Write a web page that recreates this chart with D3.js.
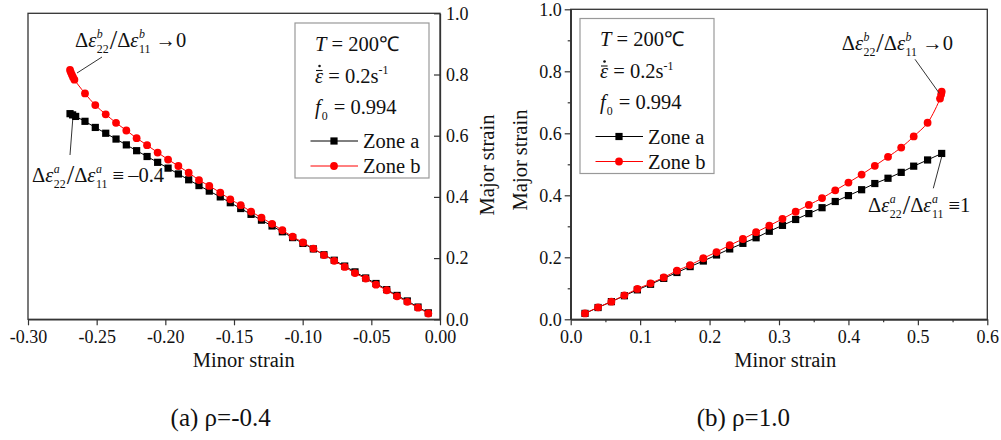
<!DOCTYPE html>
<html>
<head>
<meta charset="utf-8">
<script src="https://cdn.jsdelivr.net/npm/d3@7"></script>
</head>
<body style="margin:0; background:#fff">
<svg id="chart" width="1001" height="440"></svg>
<script>
//////////////////////////////////////////////////////
////////////////////// Data //////////////////////////
//////////////////////////////////////////////////////

// (a) rho = -0.4, zone a (black squares)
var aMinorL = [-0.0085, -0.016, -0.0238, -0.0313, -0.0388, -0.0466, -0.0541, -0.0619, -0.0694, -0.077,
	-0.0845, -0.0922, -0.0998, -0.1073, -0.1148, -0.1223, -0.130, -0.1376, -0.1451, -0.1527,
	-0.160, -0.168, -0.1755, -0.183, -0.1905, -0.198, -0.2056, -0.2133, -0.2209, -0.2284,
	-0.2359, -0.2434, -0.251, -0.2585, -0.2653, -0.2675, -0.2694];
var aMajorL = [0.021, 0.040, 0.060, 0.078, 0.097, 0.117, 0.135, 0.155, 0.174, 0.193,
	0.211, 0.230, 0.248, 0.267, 0.286, 0.305, 0.324, 0.343, 0.362, 0.381,
	0.400, 0.419, 0.437, 0.456, 0.475, 0.494, 0.513, 0.532, 0.551, 0.570,
	0.589, 0.608, 0.627, 0.647, 0.663, 0.668, 0.672];

// (a) rho = -0.4, zone b (red circles)
var bMinorL = [-0.0085, -0.016, -0.0238, -0.0313, -0.0388, -0.0466, -0.0541, -0.0619, -0.0694, -0.077,
	-0.0845, -0.0922, -0.0998, -0.1073, -0.1148, -0.1223, -0.130, -0.1376, -0.1451, -0.1527,
	-0.160, -0.168, -0.1755, -0.183, -0.1905, -0.198, -0.2056, -0.2133, -0.2209, -0.2284,
	-0.2359, -0.2434, -0.251, -0.2585, -0.2662, -0.2672, -0.2680, -0.2688, -0.2694];
var bMajorL = [0.019, 0.038, 0.057, 0.075, 0.095, 0.113, 0.133, 0.151, 0.171, 0.191,
	0.210, 0.231, 0.251, 0.270, 0.291, 0.312, 0.332, 0.352, 0.373, 0.392,
	0.414, 0.436, 0.455, 0.479, 0.501, 0.522, 0.545, 0.569, 0.592, 0.617,
	0.642, 0.670, 0.700, 0.738, 0.783, 0.791, 0.799, 0.807, 0.815];

// (b) rho = 1.0, zone a
var aMinorR = [0.0206, 0.0394, 0.0586, 0.0773, 0.096, 0.115, 0.134, 0.153, 0.172, 0.191,
	0.210, 0.229, 0.248, 0.267, 0.286, 0.305, 0.324, 0.343, 0.362, 0.381,
	0.400, 0.419, 0.438, 0.457, 0.476, 0.494, 0.514, 0.5343];
var aMajorR = [0.019, 0.038, 0.057, 0.076, 0.095, 0.113, 0.132, 0.151, 0.170, 0.188,
	0.2075, 0.227, 0.245, 0.263, 0.284, 0.303, 0.322, 0.341, 0.360, 0.380,
	0.399, 0.418, 0.438, 0.455, 0.474, 0.494, 0.514, 0.535];

// (b) rho = 1.0, zone b
var bMinorR = [0.0206, 0.0394, 0.0586, 0.0773, 0.096, 0.115, 0.134, 0.153, 0.172, 0.191,
	0.210, 0.229, 0.248, 0.267, 0.286, 0.305, 0.324, 0.343, 0.362, 0.381,
	0.400, 0.419, 0.438, 0.457, 0.476, 0.494, 0.514, 0.5319, 0.5335, 0.5343];
var bMajorR = [0.019, 0.0387, 0.057, 0.0774, 0.098, 0.116, 0.135, 0.157, 0.175, 0.197,
	0.217, 0.239, 0.259, 0.281, 0.302, 0.324, 0.347, 0.369, 0.391, 0.416,
	0.441, 0.467, 0.495, 0.524, 0.554, 0.590, 0.634, 0.712, 0.725, 0.734];

// Ticks
var xTicksL = [-0.30, -0.25, -0.20, -0.15, -0.10, -0.05, 0.00];
var yTicks = [0.0, 0.2, 0.4, 0.6, 0.8, 1.0];
var yMinorTicks = [0.1, 0.3, 0.5, 0.7, 0.9];
var xTicksR = [0.0, 0.1, 0.2, 0.3, 0.4, 0.5, 0.6];
var xMinorTicksR = [0.05, 0.15, 0.25, 0.35, 0.45, 0.55];

var zoneNames = ["Zone a", "Zone b"];
var captions = ["(a) ρ=-0.4", "(b) ρ=1.0"];

//////////////////////////////////////////////////////
///////////// General helper functions ///////////////
//////////////////////////////////////////////////////

var FONT = "Liberation Serif";
var svg = d3.select("#chart");

function zip(xs, ys) {
	return xs.map(function(x, i) { return { x: x, y: ys[i] }; });
}

//Plain serif text element
function txt(g, x, y, s, size, italic) {
	return g.append("text").attr("x", x).attr("y", y)
		.attr("font-family", FONT)
		.attr("font-size", size)
		.attr("font-style", italic ? "italic" : "normal")
		.attr("fill", "#111")
		.text(s.replace(/ /g, "\u00a0"));
}

// Draws a run of text pieces, with stacked super/subscripts
function mathText(g, x, y, parts, size) {
	var cx = x;
	parts.forEach(function(p) {
		if (p.sup !== undefined || p.sub !== undefined) {
			var w = 0;
			if (p.sup !== undefined) {
				var s = txt(g, cx, y - size * 0.42, p.sup, size * 0.58, p.supItalic !== false);
				w = Math.max(w, s.node().getComputedTextLength());
			}
			if (p.sub !== undefined) {
				var b = txt(g, cx, y + size * 0.3, p.sub, size * 0.58, false);
				w = Math.max(w, b.node().getComputedTextLength());
			}
			cx += w + 1;
		} else {
			var t = txt(g, cx, y, p.t, p.size || size, p.italic);
			if (p.dy) t.attr("y", y + p.dy);
			cx += t.node().getComputedTextLength() + (p.pad || 0);
		}
	});
	return cx - x;
}

function ratioParts(zone, tail) {
	return [
		{ t: "Δ" }, { t: "ε", italic: true, pad: 0.5 }, { sup: zone, sub: "22" },
		{ t: "/", size: 27, dy: 2 },
		{ t: "Δ" }, { t: "ε", italic: true, pad: 0.5 }, { sup: zone, sub: "11" },
		{ t: tail }
	];
}

//////////////////////////////////////////////////////
////////////////////// Panels ////////////////////////
//////////////////////////////////////////////////////

var panels = [
	{
		xDomain: [-0.30, 0.00], xRange: [28, 440],
		yRange: [319.3, 13.3],
		xTicks: xTicksL, xMinor: [], yMinor: [],
		xFmt: function(d) { return d.toFixed(2); },
		yRight: true,
		a: zip(aMinorL, aMajorL), b: zip(bMinorL, bMajorL),
		legend: { x: 295, y: 23 },
		xTitle: [243.8, 366.7], yTitle: [486.7, 165],
		caption: [220.7, 426],
		notes: [
			{ zone: "b", tail: "\u2009→0", x: 75, y: 46.7, lead: [[102, 57], [77, 73]] },
			{ zone: "a", tail: "\u2009≡\u2009–0.4", x: 32, y: 181.7, lead: [[70, 155], [72.7, 120]] }
		]
	},
	{
		xDomain: [0.0, 0.6], xRange: [570.7, 987.3],
		yRange: [319.3, 9.3],
		xTicks: xTicksR, xMinor: xMinorTicksR, yMinor: yMinorTicks,
		xFmt: function(d) { return d.toFixed(1); },
		yRight: false,
		a: zip(aMinorR, aMajorR), b: zip(bMinorR, bMajorR),
		legend: { x: 580, y: 18.5 },
		xTitle: [785.3, 366.7], yTitle: [520, 160],
		caption: [743.3, 426],
		notes: [
			{ zone: "b", tail: "\u2009→0", x: 841.7, y: 50, lead: [[915, 59.3], [939.3, 93.3]] },
			{ zone: "a", tail: "\u2009≡1", x: 868, y: 211.7, lead: [[933.3, 188.3], [941.7, 156.7]] }
		]
	}
];

panels.forEach(function(p, pi) {
	var x = d3.scaleLinear().domain(p.xDomain).range(p.xRange);
	var y = d3.scaleLinear().domain([0, 1]).range(p.yRange);
	var g = svg.append("g");

	// Frame
	g.append("rect")
		.attr("x", p.xRange[0]).attr("y", p.yRange[1])
		.attr("width", p.xRange[1] - p.xRange[0]).attr("height", p.yRange[0] - p.yRange[1])
		.attr("fill", "none").attr("stroke", "#333").attr("stroke-width", 1.3);

	// X axis
	g.append("g").attr("transform", "translate(0," + p.yRange[0] + ")")
		.call(d3.axisBottom(x).tickValues(p.xTicks).tickFormat(p.xFmt)
			.tickSize(6).tickSizeOuter(0).tickPadding(5));
	if (p.xMinor.length) {
		g.append("g").attr("transform", "translate(0," + p.yRange[0] + ")")
			.call(d3.axisBottom(x).tickValues(p.xMinor).tickFormat("").tickSize(3).tickSizeOuter(0));
	}

	// Y axis
	if (p.yRight) {
		g.append("g").attr("transform", "translate(" + p.xRange[1] + ",0)")
			.call(d3.axisRight(y).tickValues(yTicks).tickFormat(d3.format(".1f"))
				.tickSize(-6).tickSizeOuter(0).tickPadding(6));
	} else {
		g.append("g").attr("transform", "translate(" + p.xRange[0] + ",0)")
			.call(d3.axisLeft(y).tickValues(yTicks).tickFormat(d3.format(".1f"))
				.tickSize(6).tickSizeOuter(0).tickPadding(3));
		g.append("g").attr("transform", "translate(" + p.xRange[0] + ",0)")
			.call(d3.axisLeft(y).tickValues(p.yMinor).tickFormat("").tickSize(3).tickSizeOuter(0));
	}

	g.selectAll("g").attr("font-family", FONT).attr("font-size", 18);
	g.selectAll(".domain").attr("stroke", "#333").attr("stroke-width", 1.3);
	g.selectAll(".tick line").attr("stroke", "#333").attr("stroke-width", 1.2);
	g.selectAll(".tick text").attr("fill", "#111");

	// Axis titles
	txt(g, p.xTitle[0], p.xTitle[1], "Minor strain", 20.5).attr("text-anchor", "middle");
	txt(g, 0, 0, "Major strain", 20.5)
		.attr("transform", "translate(" + p.yTitle[0] + "," + p.yTitle[1] + ") rotate(-90)")
		.attr("text-anchor", "middle").attr("dy", "0.35em");

	// Series
	var lineA = d3.line().x(function(d) { return x(d.x); }).y(function(d) { return y(d.y); });
	var lineB = d3.line().x(function(d) { return x(d.x); }).y(function(d) { return y(d.y); })
		.curve(d3.curveCatmullRom);

	g.append("path").datum(p.a).attr("d", lineA)
		.attr("fill", "none").attr("stroke", "#000").attr("stroke-width", 1);
	g.selectAll(".sqA").data(p.a).enter().append("rect")
		.attr("x", function(d) { return x(d.x) - 3.6; })
		.attr("y", function(d) { return y(d.y) - 3.6; })
		.attr("width", 7.2).attr("height", 7.2).attr("fill", "#000");

	g.append("path").datum(p.b).attr("d", lineB)
		.attr("fill", "none").attr("stroke", "#ff0000").attr("stroke-width", 1);
	g.selectAll(".cirB").data(p.b).enter().append("circle")
		.attr("cx", function(d) { return x(d.x); })
		.attr("cy", function(d) { return y(d.y); })
		.attr("r", 3.9).attr("fill", "#ff0000");

	// Legend
	var L = p.legend;
	var lg = g.append("g").attr("transform", "translate(" + L.x + "," + L.y + ")");
	lg.append("rect").attr("width", 134).attr("height", 155)
		.attr("fill", "#fff").attr("stroke", "#999").attr("stroke-width", 1.2);
	mathText(lg, 20, 27.5, [{ t: "T", italic: true }, { t: " = 200℃" }], 20.5);
	var ew = mathText(lg, 20, 59.7, [{ t: "ε", italic: true }], 20.5);
	lg.append("line").attr("x1", 21).attr("x2", 19.5 + ew).attr("y1", 47.5).attr("y2", 47.5)
		.attr("stroke", "#111").attr("stroke-width", 1.1);
	lg.append("circle").attr("cx", 20 + ew / 2 + 0.5).attr("cy", 43).attr("r", 1.3).attr("fill", "#111");
	mathText(lg, 20 + ew, 59.7, [{ t: " = 0.2s" }, { sup: "-1", supItalic: false }], 20.5);
	mathText(lg, 20, 90.7, [{ t: "f", italic: true, pad: 1 }, { sub: "0" }, { t: " = 0.994" }], 20.5);

	[["#000", "sq"], ["#ff0000", "ci"]].forEach(function(s, i) {
		var ly = 125 + i * 25;
		lg.append("line").attr("x1", 15.5).attr("x2", 63).attr("y1", ly - 7).attr("y2", ly - 7)
			.attr("stroke", s[0]).attr("stroke-width", 1);
		if (s[1] === "sq") {
			lg.append("rect").attr("x", 39 - 3.6).attr("y", ly - 7 - 3.6)
				.attr("width", 7.2).attr("height", 7.2).attr("fill", s[0]);
		} else {
			lg.append("circle").attr("cx", 39).attr("cy", ly - 7).attr("r", 3.9).attr("fill", s[0]);
		}
		txt(lg, 68, ly, zoneNames[i], 20.5);
	});

	// Annotations
	p.notes.forEach(function(n) {
		mathText(g, n.x, n.y, ratioParts(n.zone, n.tail), 20.5);
		g.append("line")
			.attr("x1", n.lead[0][0]).attr("y1", n.lead[0][1])
			.attr("x2", n.lead[1][0]).attr("y2", n.lead[1][1])
			.attr("stroke", "#333").attr("stroke-width", 1);
	});

	// Caption
	txt(g, p.caption[0], p.caption[1], captions[pi], 25).attr("text-anchor", "middle");
});
</script>
</body>
</html>
